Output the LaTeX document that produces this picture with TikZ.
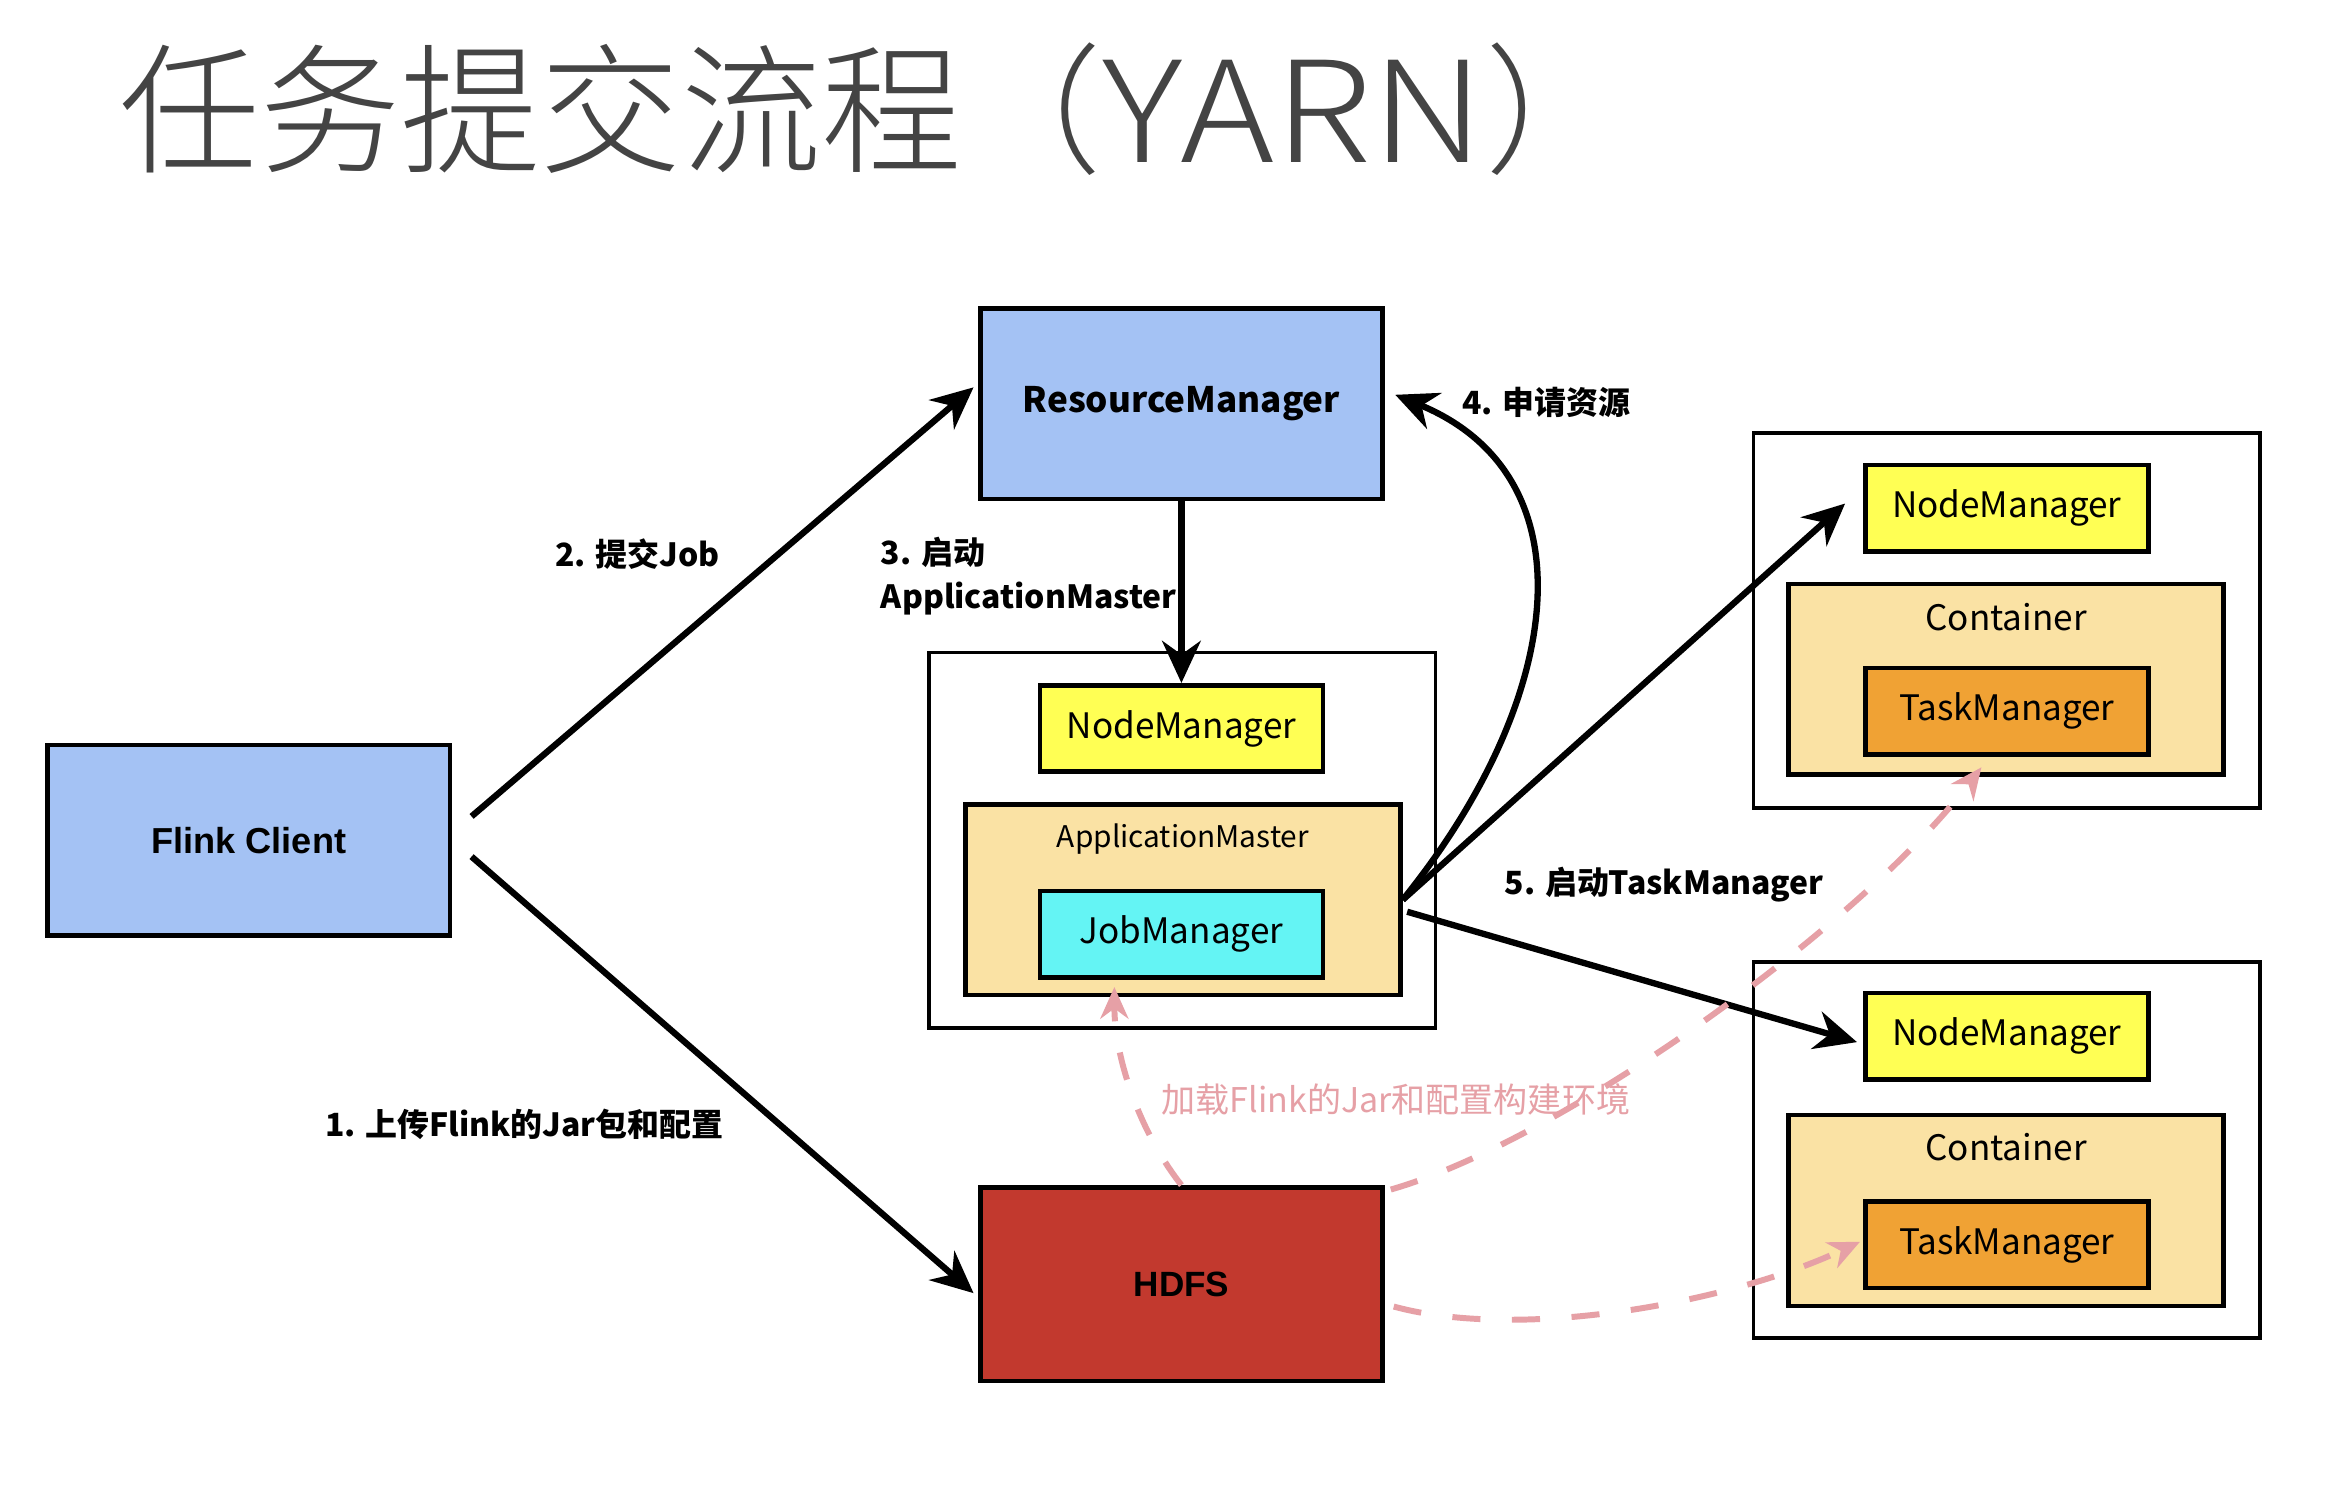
\documentclass[tikz,border=0pt]{standalone}
\usepackage{graphicx}
\usepackage{fontspec}
\setmainfont{Noto Sans CJK SC}
\newfontfamily\arialfont{Liberation Sans}
\newfontfamily\titlefont{Noto Sans CJK SC Light}
\usetikzlibrary{arrows.meta}

\definecolor{clientblue}{RGB}{164,194,244}
\definecolor{hdfsred}{RGB}{194,57,46}
\definecolor{nmyellow}{RGB}{255,255,84}
\definecolor{amtan}{RGB}{250,226,164}
\definecolor{jmcyan}{RGB}{100,244,244}
\definecolor{tmorange}{RGB}{240,162,52}
\definecolor{loadpink}{RGB}{230,160,166}
\definecolor{titlegray}{RGB}{68,68,68}

\begin{document}
\begin{tikzpicture}[x=0.014923cm, y=-0.014923cm,
  box/.style = {draw, line width=1.3pt, inner sep=0pt},
  big/.style = {box, minimum width=4.029cm, minimum height=1.91cm},
  small/.style = {box, minimum width=2.835cm, minimum height=0.866cm,
    font=\fontsize{10}{12}\selectfont},
  wide/.style = {box, fill=amtan, minimum width=4.358cm, minimum height=1.91cm},
  host/.style = {box, fill=white, line width=1.1pt,
    minimum width=5.074cm, minimum height=3.761cm},
  boxlbl/.style = {font=\fontsize{10}{12}\selectfont},
  steplbl/.style = {font=\bfseries\fontsize{9.1}{12.5}\selectfont},
  flow/.style = {draw, line width=1.8pt, -{Stealth[length=12pt,width=11pt]}},
  load/.style = {draw=loadpink, line width=1.7pt, dash pattern=on 8pt off 9pt,
    -{Stealth[length=9pt,width=8pt]}}]
  \path[use as bounding box, fill=white] (0,0) rectangle (1568,1000);

  % title
  \node[anchor=base west, inner sep=0pt, text=titlegray,
    font=\titlefont\fontsize{40}{40}\selectfont] (title) at (80,109)
    {任务提交流程（\scalebox{1.14}[1]{YARN}）};

  % client, resource manager, hdfs
  \node[big, fill=clientblue, font=\arialfont\bfseries\fontsize{10.3}{12}\selectfont]
    (client) at (167,564) {Flink Client};
  \node[big, fill=clientblue, font=\bfseries\fontsize{10}{12}\selectfont]
    (rm) at (793,271) {ResourceManager};
  \node[big, fill=hdfsred, minimum height=1.94cm,
    font=\arialfont\bfseries\fontsize{10}{12}\selectfont] (hdfs) at (793,862) {HDFS};

  % host running the application master
  \node[host] (hostA) at (793.5,564) {};
  \node[small, fill=nmyellow] (nmA) at (793,489) {NodeManager};
  \node[wide] (am) at (794,604) {};
  \node[boxlbl, font=\fontsize{8.5}{11}\selectfont] (amlbl) at (794,563) {ApplicationMaster};
  \node[small, fill=jmcyan] (jm) at (793,627) {JobManager};

  % upper worker host
  \node[host] (hostB) at (1347,416.5) {};
  \node[small, fill=nmyellow] (nmB) at (1347,341) {NodeManager};
  \node[wide] (ctB) at (1346.5,456) {};
  \node[boxlbl] (ctBlbl) at (1346.5,414) {Container};
  \node[small, fill=tmorange] (tmB) at (1347,477.5) {TaskManager};

  % lower worker host
  \node[host] (hostC) at (1347,772) {};
  \node[small, fill=nmyellow] (nmC) at (1347,695.5) {NodeManager};
  \node[wide] (ctC) at (1346.5,812.5) {};
  \node[boxlbl] (ctClbl) at (1346.5,770) {Container};
  \node[small, fill=tmorange] (tmC) at (1347,835.5) {TaskManager};

  % steps
  \draw[flow] ([shift={(13,11)}]client.east) -- ([shift={(-3,6)}]hdfs.west);
  \draw[flow] ([shift={(13,-16)}]client.east) -- ([shift={(-3,-11)}]rm.west);
  \draw[flow] (rm.south) -- (nmA.north);
  \draw[flow] (am.east) .. controls (1050,470) and (1070,320) .. ([shift={(7,-6)}]rm.east);
  \draw[flow] (am.east) -- ([shift={(-12,-3)}]nmB.west);
  \draw[flow] ([shift={(3,8)}]am.east) -- ([shift={(-4,4)}]nmC.west);

  \node[steplbl] (l1) at (352,755) {1. 上传Flink的Jar包和配置};
  \node[steplbl] (l2) at (428,372) {2. 提交Job};
  \node[steplbl, anchor=west, align=left] (l3) at (583,387) {3. 启动\\ApplicationMaster};
  \node[steplbl] (l4) at (1038,270) {4. 申请资源};
  \node[steplbl] (l5) at (1117,594) {5. 启动TaskManager};

  % loading jar and config from hdfs
  \draw[load] (hdfs.north) .. controls (765,760) and (748,710) .. ([shift={(-45,5)}]jm.south);
  \draw[load] ([shift={(4,3)}]hdfs.north east) .. controls (1050,765) and (1250,620) .. ([shift={(-17,7)}]tmB.south);
  \draw[load] ([shift={(6,15)}]hdfs.east) .. controls (1020,900) and (1160,875) .. ([shift={(-2,-2)}]tmC.west);
  \node[text=loadpink, font=\fontsize{9.7}{12}\selectfont] (l6) at (937,738) {加载Flink的Jar和配置构建环境};
\end{tikzpicture}
\end{document}
